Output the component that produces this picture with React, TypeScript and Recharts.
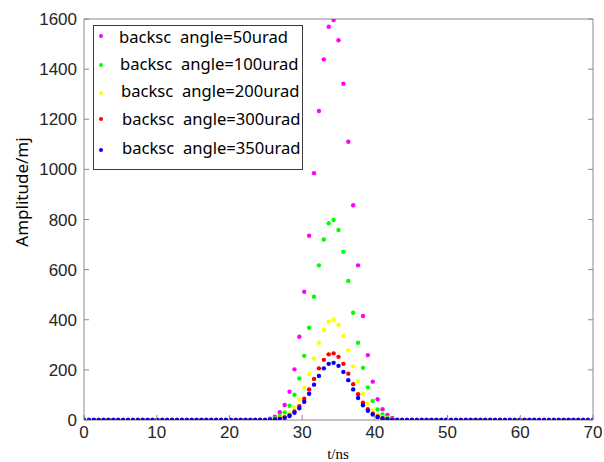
import { Legend, Scatter, ScatterChart, XAxis, YAxis } from 'recharts';

// time grid: 105 samples from 0 to 70 ns
const SAMPLE_COUNT = 105;
const T_END = 70;
const TIME = Array.from({ length: SAMPLE_COUNT }, (_, i) => (i * T_END) / (SAMPLE_COUNT - 1));

// the pulse only leaves the baseline between these samples, zero elsewhere
const PULSE_FIRST = 38;
const ANGLE_50 = [5, 13, 31, 60, 113, 202, 332, 512, 735, 985, 1233, 1439, 1569, 1596, 1515, 1342, 1110, 857, 617, 415, 259, 153, 83, 43, 20, 8];
const ANGLE_100 = [2, 7, 15, 30, 57, 101, 166, 256, 368, 492, 617, 720, 785, 798, 758, 671, 555, 428, 308, 208, 130, 76, 42, 22, 10, 4];
const ANGLE_200 = [1, 3, 8, 15, 28, 50, 83, 128, 184, 246, 308, 360, 392, 399, 379, 335, 278, 214, 154, 104, 65, 38, 21, 11, 5, 2];
const ANGLE_300 = [1, 2, 5, 10, 19, 34, 55, 85, 122, 164, 206, 240, 262, 266, 252, 224, 185, 143, 103, 69, 43, 25, 14, 7, 3, 1];
const ANGLE_350 = [1, 2, 4, 9, 16, 29, 47, 73, 105, 141, 176, 206, 224, 228, 216, 192, 159, 122, 88, 59, 37, 22, 12, 6, 3, 1];

const X_TICKS = [0, 10, 20, 30, 40, 50, 60, 70];
const Y_TICKS = [0, 200, 400, 600, 800, 1000, 1200, 1400, 1600];

const SERIES = [
  { name: 'backsc  angle=50urad', color: '#ff00ff', values: ANGLE_50 },
  { name: 'backsc  angle=100urad', color: '#00ff00', values: ANGLE_100 },
  { name: 'backsc  angle=200urad', color: '#ffff00', values: ANGLE_200 },
  { name: 'backsc  angle=300urad', color: '#ff0000', values: ANGLE_300 },
  { name: 'backsc  angle=350urad', color: '#0000ff', values: ANGLE_350 },
];

const toPoints = (values: number[]) =>
  TIME.map((t, i) => {
    const k = i - PULSE_FIRST;
    return { t, v: k >= 0 && k < values.length ? values[k] : 0 };
  });

const FRAME = '#8a8a8a';
const TICK_FONT = '"Liberation Sans", Arial, sans-serif';
const LABEL_FONT = '"Noto Sans", "Open Sans", sans-serif';

const BottomTick = ({ x, y, payload }: any) => (
  <g>
    <line x1={x} y1={y} x2={x} y2={y - 5} stroke={FRAME} />
    <text x={x} y={y + 18} textAnchor="middle" fontSize={17} fontFamily={TICK_FONT} fill="#262626">
      {payload.value}
    </text>
  </g>
);

const LeftTick = ({ x, y, payload }: any) => (
  <g>
    <line x1={x} y1={y} x2={x + 5} y2={y} stroke={FRAME} />
    <text x={x - 7} y={y + 6} textAnchor="end" fontSize={17} fontFamily={TICK_FONT} fill="#262626">
      {payload.value}
    </text>
  </g>
);

const TopTick = ({ x, y }: any) => <line x1={x} y1={y} x2={x} y2={y + 5} stroke={FRAME} />;
const RightTick = ({ x, y }: any) => <line x1={x} y1={y} x2={x - 5} y2={y} stroke={FRAME} />;

const LEGEND_ROWS = [
  { dotY: 10, textY: 11, textX: 25 },
  { dotY: 39, textY: 38, textX: 26 },
  { dotY: 67, textY: 65, textX: 27 },
  { dotY: 93, textY: 93, textX: 28 },
  { dotY: 124, textY: 122, textX: 28 },
];

const LegendBox = () => (
  <div
    style={{
      position: 'relative',
      width: 210,
      height: 145,
      border: '1px solid #3a3a3a',
      background: '#fff',
      boxSizing: 'border-box',
      fontFamily: LABEL_FONT,
      fontSize: 16.6,
      color: '#000',
    }}
  >
    {SERIES.map((s, i) => (
      <div key={s.name}>
        <div
          style={{
            position: 'absolute',
            left: 5,
            top: LEGEND_ROWS[i].dotY - 2,
            width: 4,
            height: 4,
            borderRadius: 2,
            background: s.color,
          }}
        />
        <div
          style={{
            position: 'absolute',
            left: LEGEND_ROWS[i].textX,
            top: LEGEND_ROWS[i].textY - 12,
            lineHeight: '24px',
            whiteSpace: 'pre',
          }}
        >
          {s.name}
        </div>
      </div>
    ))}
  </div>
);

export default function App() {
  return (
    <div style={{ position: 'absolute', left: 0, top: 0, width: 604, height: 462, background: '#fff' }}>
      <ScatterChart width={604} height={462} margin={{ top: 0, right: 0, bottom: 0, left: 0 }}>
        <XAxis
          xAxisId="b"
          dataKey="t"
          type="number"
          domain={[0, 70]}
          ticks={X_TICKS}
          interval={0}
          height={42}
          tickSize={0}
          tickMargin={0}
          tickLine={false}
          axisLine={{ stroke: FRAME }}
          tick={<BottomTick />}
          allowDataOverflow
        />
        <XAxis
          xAxisId="t"
          orientation="top"
          type="number"
          domain={[0, 70]}
          ticks={X_TICKS}
          interval={0}
          height={19}
          tickSize={0}
          tickMargin={0}
          tickLine={false}
          axisLine={{ stroke: FRAME }}
          tick={<TopTick />}
          allowDataOverflow
        />
        <YAxis
          yAxisId="l"
          dataKey="v"
          type="number"
          domain={[0, 1600]}
          ticks={Y_TICKS}
          interval={0}
          width={84}
          tickSize={0}
          tickMargin={0}
          tickLine={false}
          axisLine={{ stroke: FRAME }}
          tick={<LeftTick />}
          allowDataOverflow
        />
        <YAxis
          yAxisId="r"
          orientation="right"
          type="number"
          domain={[0, 1600]}
          ticks={Y_TICKS}
          interval={0}
          width={11}
          tickSize={0}
          tickMargin={0}
          tickLine={false}
          axisLine={{ stroke: FRAME }}
          tick={<RightTick />}
          allowDataOverflow
        />
        <Scatter xAxisId="t" yAxisId="r" data={[]} isAnimationActive={false} />
        {SERIES.map((s) => (
          <Scatter
            key={s.name}
            name={s.name}
            xAxisId="b"
            yAxisId="l"
            data={toPoints(s.values)}
            isAnimationActive={false}
            shape={(p: any) => <circle cx={p.cx} cy={p.cy} r={2.2} fill={s.color} />}
          />
        ))}
        <Legend
          layout="vertical"
          align="center"
          verticalAlign="middle"
          wrapperStyle={{ left: 93, top: 25, width: 210, height: 145 }}
          content={<LegendBox />}
        />
      </ScatterChart>
      <svg width={604} height={462} style={{ position: 'absolute', left: 0, top: 0, pointerEvents: 'none' }}>
        <text
          x={21}
          y={192}
          transform="rotate(-90 21 192)"
          textAnchor="middle"
          dominantBaseline="central"
          fontSize={17}
          fontFamily={LABEL_FONT}
          fill="#000"
        >
          Amplitude/mj
        </text>
        <text x={338} y={459} textAnchor="middle" fontSize={15} fontFamily='"Liberation Serif", "Times New Roman", serif' fill="#000">
          t/ns
        </text>
      </svg>
    </div>
  );
}
